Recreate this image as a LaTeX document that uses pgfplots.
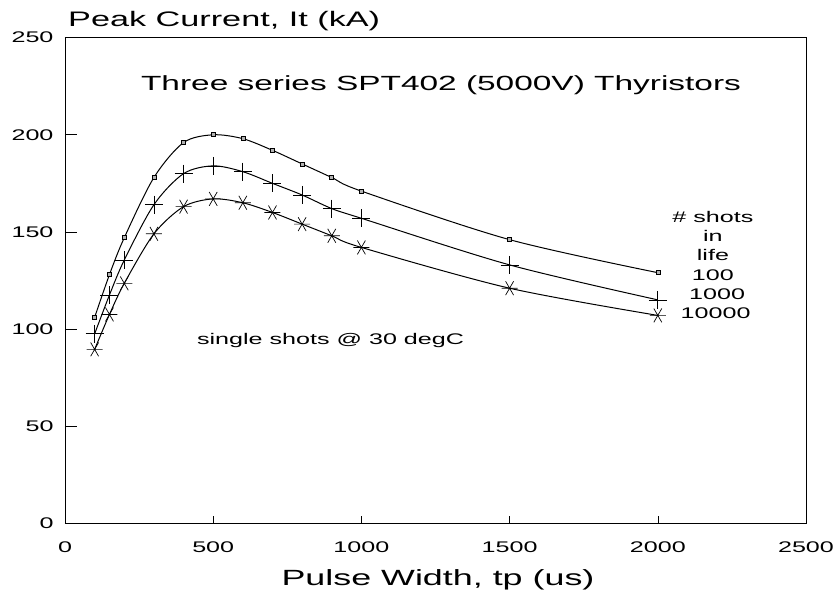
\documentclass[border=0pt]{standalone}
\usepackage{fontspec}
\setmainfont{Liberation Sans}[FakeStretch=1.63]
\usepackage{pgfplots}
\pgfplotsset{compat=1.18}
\begin{document}
\begin{tikzpicture}
\begin{axis}[
  name=ax,
  scale only axis,
  width=741pt, height=485.5pt,
  xmin=0, xmax=2500, ymin=0, ymax=250,
  xtick={0,500,1000,1500,2000,2500},
  ytick={0,50,100,150,200,250},
  tick align=inside,
  xtick pos=bottom, ytick pos=left,
  xtick style={black, line width=0.6pt, /pgfplots/major tick length=7pt},
  ytick style={black, line width=0.6pt, /pgfplots/major tick length=12pt},
  axis line style={line width=0.9pt},
  /pgf/number format/assume math mode=true,
  /pgf/number format/set thousands separator={},
  ticklabel style={font=\fontsize{15.4}{18}\selectfont},
  xticklabel style={anchor=base, yshift=-29.5pt},
  yticklabel style={anchor=east, xshift=-8pt, yshift=0pt},
  clip=false,
]
% 100 shots
\addplot[black, line width=1pt, smooth, tension=0.5, mark=square*, mark size=2pt,
  mark options={fill=gray!60, line width=0.6pt}] coordinates {
(100,106) (150,128) (200,147) (300,178) (400,196) (500,200) (600,198)
(700,192) (800,185) (900,178) (1000,171) (1500,146) (2000,129)};
% 1000 shots
\addplot[black, line width=1pt, smooth, tension=0.5, mark=+, mark size=9pt,
  mark options={line width=0.7pt}] coordinates {
(100,97.5) (150,117.5) (200,135.5) (300,164) (400,180) (500,184) (600,181)
(700,175) (800,169) (900,162) (1000,157) (1500,133) (2000,115)};
% 10000 shots
\addplot[black, line width=1pt, smooth, tension=0.5, mark=asterisk, mark size=8pt,
  mark options={line width=0.7pt, rotate=90}] coordinates {
(100,89.5) (150,107.5) (200,123.5) (300,149) (400,163) (500,167) (600,165)
(700,160) (800,154) (900,148) (1000,142) (1500,121) (2000,107)};
\node[anchor=base west, font=\fontsize{21}{25}\selectfont, inner sep=0pt] at (rel axis cs:0,1) [xshift=3pt, yshift=11.3pt] {Peak Current, It (kA)};
\node[anchor=base, font=\fontsize{20.5}{24}\selectfont, inner sep=0pt] at (rel axis cs:0.5,1) [xshift=5.5pt, yshift=-52.7pt] {Three series SPT402 (5000V) Thyristors};
\node[anchor=base, font=\fontsize{22}{26}\selectfont, inner sep=0pt] at (rel axis cs:0.5,0) [xshift=2.5pt, yshift=-62pt] {Pulse Width, tp (us)};
\node[anchor=base west, font=\fontsize{15.4}{18}\selectfont, inner sep=0pt] at (axis cs:445,91.8) {single shots @ 30 degC};
\begin{scope}[every node/.style={anchor=base, font=\fontsize{15.4}{18}\selectfont, inner sep=0pt}]
\node at (axis cs:2186,154.9) {\# shots};
\node at (axis cs:2186,145.0) {in};
\node at (axis cs:2186,135.1) {life};
\node at (axis cs:2186,125.2) {100};
\node at (axis cs:2200,115.3) {1000};
\node at (axis cs:2195,105.4) {10000};
\end{scope}
\end{axis}
\pgfresetboundingbox
\path ([xshift=-65pt,yshift=-66.7pt]ax.south west) rectangle ([xshift=32pt,yshift=37.7pt]ax.north east);
\end{tikzpicture}
\end{document}
